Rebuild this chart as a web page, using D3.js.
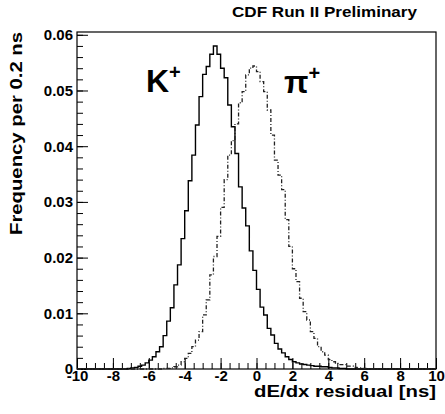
<!DOCTYPE html>
<html>
<head>
<meta charset="utf-8">
<script src="https://cdn.jsdelivr.net/npm/d3@7"></script>
<style>
  body { margin: 0; background: #fff; }
  svg { display: block; font-family: "Liberation Sans", Arial, sans-serif; font-weight: bold; }
</style>
</head>
<body>
<svg id="chart" width="445" height="414"></svg>
<script>
// bin width 0.2 ns
var binWidth = 0.2;

// K+ : first bin starts at -7.2 ns
var kaonStart = -7.2;
var kaonFreq = [
    0.0001, 0.0002, 0.0003, 0.0005, 0.0007, 0.0011, 0.0016, 0.0022, 0.0031, 0.0040,
    0.0060, 0.0086, 0.0110, 0.0151, 0.0187, 0.0234, 0.0284, 0.0338, 0.0384, 0.0438,
    0.0489, 0.0529, 0.0543, 0.0565, 0.0580, 0.0565, 0.0540, 0.0523, 0.0474, 0.0435,
    0.0387, 0.0327, 0.0289, 0.0257, 0.0212, 0.0177, 0.0143, 0.0111, 0.0097, 0.0073,
    0.0061, 0.0046, 0.0036, 0.0029, 0.0022, 0.0017, 0.0013, 0.0011, 0.0009, 0.0008,
    0.0007, 0.0006, 0.0005, 0.0005, 0.0004, 0.0004, 0.0003, 0.0002, 0.0002, 0.0001,
    0.0001
];

// pi+ : first bin starts at -5.2 ns
var pionStart = -5.2;
var pionFreq = [
    0.0001, 0.0001, 0.0002, 0.0004, 0.0007, 0.0013, 0.0019, 0.0028, 0.0040, 0.0052,
    0.0067, 0.0097, 0.0124, 0.0169, 0.0202, 0.0238, 0.0290, 0.0340, 0.0384, 0.0410,
    0.0440, 0.0478, 0.0498, 0.0528, 0.0540, 0.0544, 0.0534, 0.0516, 0.0498, 0.0465,
    0.0420, 0.0375, 0.0348, 0.0322, 0.0268, 0.0220, 0.0180, 0.0157, 0.0127, 0.0103,
    0.0088, 0.0067, 0.0055, 0.0040, 0.0031, 0.0025, 0.0017, 0.0013, 0.0010, 0.0008,
    0.0008, 0.0005, 0.0005, 0.0003, 0.0002, 0.0001, 0.0001
];

var xMajor = [-10, -8, -6, -4, -2, 0, 2, 4, 6, 8, 10];
var yMajor = [0, 0.01, 0.02, 0.03, 0.04, 0.05, 0.06];

var frameL = 77, frameR = 436, frameT = 32, frameB = 369;

var svg = d3.select('#chart');

var x = d3.scaleLinear().domain([-10, 10]).range([frameL, frameR]);
var y = d3.scaleLinear().domain([0, 0.0605]).range([frameB, frameT]);

// turn a list of bin values into step points
function stepPoints(start, freq) {
    var pts = [[-10, 0], [start, 0]];
    freq.forEach(function (v, i) {
        pts.push([start + i * binWidth, v]);
    });
    var end = start + freq.length * binWidth;
    pts.push([end, 0]);
    pts.push([10, 0]);
    return pts;
}

var line = d3.line()
    .x(function (d) { return x(d[0]); })
    .y(function (d) { return y(d[1]); })
    .curve(d3.curveStepAfter);

// frame
svg.append('rect')
    .attr('x', frameL).attr('y', frameT)
    .attr('width', frameR - frameL).attr('height', frameB - frameT)
    .attr('fill', 'none')
    .attr('stroke', '#000')
    .attr('stroke-width', 1.2);

// minor ticks
var yMinor = d3.range(0, 0.0601, 0.002);
var xMinor = d3.range(-10, 10.01, 0.5);

svg.append('g')
    .attr('transform', 'translate(' + frameL + ',0)')
    .call(d3.axisLeft(y).tickValues(yMinor).tickSize(-6).tickFormat(''))
    .call(function (g) { g.select('.domain').remove(); });

svg.append('g')
    .attr('transform', 'translate(0,' + frameB + ')')
    .call(d3.axisBottom(x).tickValues(xMinor).tickSize(-6).tickFormat(''))
    .call(function (g) { g.select('.domain').remove(); });

// major ticks + labels
var yAxis = svg.append('g')
    .attr('transform', 'translate(' + frameL + ',0)')
    .call(d3.axisLeft(y).tickValues(yMajor).tickSize(-11).tickPadding(4)
        .tickFormat(function (d) { return d === 0 ? '0' : d.toFixed(2); }));
yAxis.select('.domain').remove();
yAxis.selectAll('text')
    .attr('font-size', 15)
    .attr('font-family', '"Liberation Sans", Arial, sans-serif')
    .attr('font-weight', 'bold')
    .attr('fill', '#000');

var xAxis = svg.append('g')
    .attr('transform', 'translate(0,' + frameB + ')')
    .call(d3.axisBottom(x).tickValues(xMajor).tickSize(-11).tickPadding(1)
        .tickFormat(function (d) { return String(d); }));
xAxis.select('.domain').remove();
xAxis.selectAll('text')
    .attr('font-size', 15)
    .attr('font-family', '"Liberation Sans", Arial, sans-serif')
    .attr('font-weight', 'bold')
    .attr('fill', '#000');

svg.selectAll('.tick line').attr('stroke', '#000').attr('stroke-width', 1);

// histograms
svg.append('path')
    .datum(stepPoints(kaonStart, kaonFreq))
    .attr('d', line)
    .attr('fill', 'none')
    .attr('stroke', '#000')
    .attr('stroke-width', 1.4);

svg.append('path')
    .datum(stepPoints(pionStart, pionFreq))
    .attr('d', line)
    .attr('fill', 'none')
    .attr('stroke', '#222')
    .attr('stroke-width', 1.3)
    .attr('stroke-dasharray', '4,2,1,2');

// labels
var kLab = svg.append('text')
    .attr('x', 146).attr('y', 92)
    .attr('font-size', 32);
kLab.append('tspan').text('K');
kLab.append('tspan').attr('font-size', 20).attr('dy', -13).text('+');

var pLab = svg.append('text')
    .attr('x', 284).attr('y', 93)
    .attr('font-size', 32);
pLab.append('tspan').text('π');
pLab.append('tspan').attr('font-size', 20).attr('dy', -13).text('+');

svg.append('text')
    .attr('x', 232).attr('y', 17)
    .attr('font-size', 15)
    .attr('textLength', 185)
    .attr('lengthAdjust', 'spacingAndGlyphs')
    .text('CDF Run II  Preliminary');

svg.append('text')
    .attr('x', frameR).attr('y', 397)
    .attr('text-anchor', 'end')
    .attr('font-size', 17)
    .attr('textLength', 182)
    .attr('lengthAdjust', 'spacingAndGlyphs')
    .text('dE/dx residual [ns]');

svg.append('text')
    .attr('transform', 'translate(22,' + frameT + ') rotate(-90)')
    .attr('text-anchor', 'end')
    .attr('font-size', 17)
    .attr('textLength', 203)
    .attr('lengthAdjust', 'spacingAndGlyphs')
    .text('Frequency per 0.2 ns');
</script>
</body>
</html>
